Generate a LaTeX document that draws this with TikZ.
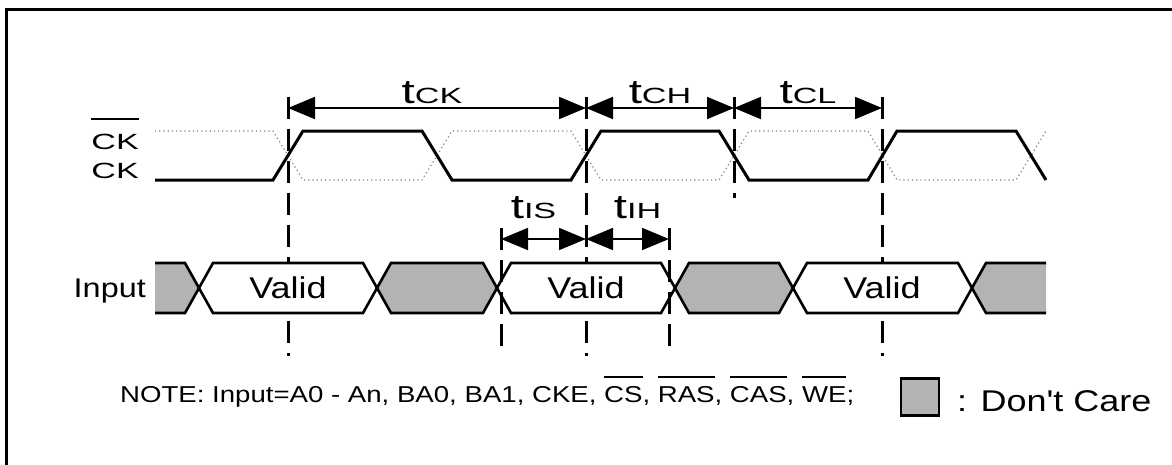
\documentclass[tikz,border=0pt]{standalone}
\usepackage{xcolor}
\usepackage{fontspec}
\setmainfont{Liberation Sans}
\newfontfamily\sigfont[FakeStretch=1.55]{Liberation Sans}
\newfontfamily\tfont[FakeStretch=1.4]{Liberation Sans}
\newfontfamily\txtfont[FakeStretch=1.2]{Liberation Sans}
\usetikzlibrary{arrows.meta}
\definecolor{dcgray}{RGB}{179,179,179}
\newcommand{\tname}[1]{{\tfont\fontsize{34}{34}\selectfont t}{\sigfont\fontsize{22}{22}\selectfont #1}}
\newcommand{\ovl}[2][8pt]{\setbox0\hbox{#2}\rlap{\raisebox{\dimexpr\ht0+#1\relax}{\rule{\wd0}{1.8pt}}}\box0}

\begin{document}
\begin{tikzpicture}[x=1pt,y=-1pt,
    wave/.style={line width=3pt},
    wavebar/.style={line width=1.2pt,gray,dash pattern=on 1.2pt off 3pt},
    guide/.style={line width=3pt,dash pattern=on 22pt off 10pt},
    dim/.style={line width=1.8pt,{Triangle[length=27pt,width=22pt]}-{Triangle[length=27pt,width=22pt]}},
    bus/.style={line width=2.6pt},
    siglabel/.style={font=\sigfont\fontsize{22}{22}\selectfont,inner sep=0pt},
    txtlabel/.style={font=\txtfont\fontsize{30}{30}\selectfont,inner sep=0pt}]
\useasboundingbox (0,0) rectangle (1172,464);
\draw[line width=3pt] (6,470) -- (6,9) -- (1180,9);

\coordinate (ck1) at (288,108);
\coordinate (ck2) at (586,108);
\coordinate (ck3) at (734,108);
\coordinate (ck4) at (882,108);
\coordinate (is1) at (501,239);
\coordinate (is2) at (586,239);
\coordinate (is3) at (669,239);

\draw[guide] ([yshift=11pt]ck1) -- ++(0,259);
\draw[guide] ([yshift=11pt]ck2) -- ++(0,259);
\draw[guide] ([yshift=11pt]ck3) -- ++(0,101);
\draw[guide] ([yshift=11pt]ck4) -- ++(0,259);

\draw[wavebar] (155,131) -- (273,131) -- (303,180) -- (422,180) -- (452,131) -- (571,131)
    -- (601,180) -- (719,180) -- (749,131) -- (868,131) -- (897,180) -- (1016,180) -- (1046,131);
\draw[wave] (155,180) -- (273,180) -- (303,131) -- (422,131) -- (452,180) -- (571,180)
    -- (601,131) -- (719,131) -- (749,180) -- (868,180) -- (897,131) -- (1016,131) -- (1046,180);

\fill[dcgray] (155,263) -- (185,263) -- (199,288) -- (185,313) -- (155,313) -- cycle;
\draw[bus] (155,263) -- (185,263) -- (199,288) -- (185,313) -- (155,313);
\draw[bus,fill=white] (199,288) -- (213,263) -- (363,263) -- (377,288) -- (363,313) -- (213,313) -- cycle;
\draw[bus,fill=dcgray] (377,288) -- (391,263) -- (483,263) -- (497,288) -- (483,313) -- (391,313) -- cycle;
\draw[bus,fill=white] (497,288) -- (511,263) -- (661,263) -- (675,288) -- (661,313) -- (511,313) -- cycle;
\draw[bus,fill=dcgray] (675,288) -- (689,263) -- (779,263) -- (793,288) -- (779,313) -- (689,313) -- cycle;
\draw[bus,fill=white] (793,288) -- (807,263) -- (958,263) -- (972,288) -- (958,313) -- (807,313) -- cycle;
\fill[dcgray] (972,288) -- (986,263) -- (1046,263) -- (1046,313) -- (986,313) -- cycle;
\draw[bus] (1046,263) -- (986,263) -- (972,288) -- (986,313) -- (1046,313);

\draw[guide] ([yshift=11pt]is1) -- ++(0,118);
\draw[guide] ([yshift=11pt]is3) -- ++(0,118);

\draw[dim] (ck1) -- (ck2) node[midway,anchor=base,xshift=-5pt,yshift=5pt,inner sep=0pt] (tck) {\tname{CK}};
\draw[dim] (ck2) -- (ck3) node[midway,anchor=base,yshift=5pt,inner sep=0pt] (tch) {\tname{CH}};
\draw[dim] (ck3) -- (ck4) node[midway,anchor=base,yshift=5pt,inner sep=0pt] (tcl) {\tname{CL}};
\draw[dim] (is1) -- (is2) node[midway,anchor=base,xshift=-10pt,yshift=21pt,inner sep=0pt] (tis) {\tname{IS}};
\draw[dim] (is2) -- (is3) node[midway,anchor=base,xshift=10pt,yshift=21pt,inner sep=0pt] (tih) {\tname{IH}};

\node[siglabel,anchor=base east] (ckbar) at (139,149) {\ovl[14pt]{CK}};
\node[siglabel,anchor=base east] (ck) at (139,178) {CK};
\node[font=\txtfont\fontsize{27}{27}\selectfont,inner sep=0pt,anchor=base east] (input) at (146,297) {Input};

\node[txtlabel,anchor=base] (valid1) at (288,298) {Valid};
\node[txtlabel,anchor=base] (valid2) at (586,298) {Valid};
\node[txtlabel,anchor=base] (valid3) at (882,298) {Valid};

\node[font=\txtfont\fontsize{23}{23}\selectfont,inner sep=0pt,anchor=base west] (note) at (120,402)
    {NOTE: Input=A0 - An, BA0, BA1, CKE, \ovl{CS}, \ovl{RAS}, \ovl{CAS}, \ovl{WE};};
\node[draw,line width=2.5pt,fill=dcgray,minimum width=38pt,minimum height=37pt,inner sep=0pt] (dc) at (920,397) {};
\node[txtlabel,anchor=base west] (dctext) at (957,411) {: Don't Care};
\end{tikzpicture}
\end{document}
